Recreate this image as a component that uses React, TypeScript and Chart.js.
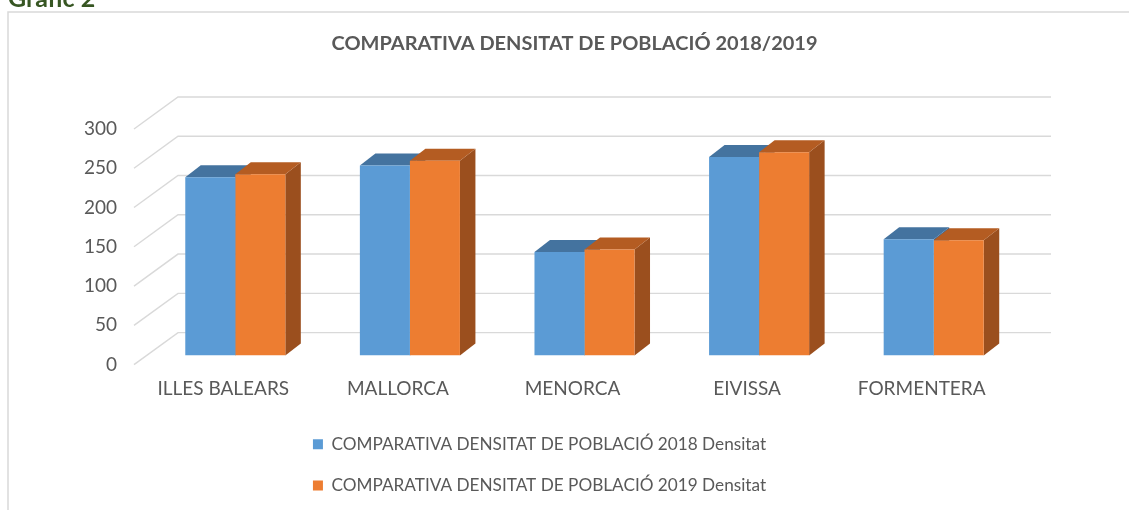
import React, { useEffect, useRef } from "react";
import { Chart, registerables } from "chart.js";

Chart.register(...registerables);

const categories = ["ILLES BALEARS", "MALLORCA", "MENORCA", "EIVISSA", "FORMENTERA"];
const densitat2018 = [227, 242, 132, 253, 148];
const densitat2019 = [231, 248, 135, 259, 147];
const seriesLabels = [
  "COMPARATIVA DENSITAT DE POBLACIÓ 2018 Densitat",
  "COMPARATIVA DENSITAT DE POBLACIÓ 2019 Densitat",
];
const chartTitle = "COMPARATIVA DENSITAT DE POBLACIÓ 2018/2019";
const pageHeading = "Gràfic 2";
const yMin = 0;
const yMax = 300;
const yStep = 50;

const FRONT_COLORS = ["#5b9bd5", "#ed7d31"];
const TOP_COLORS = ["#44739f", "#b45c22"];
const SIDE_COLORS = ["#3c6791", "#9b4f1e"];
const GRID = "#d9d9d9";
const TEXT = "#595959";

const FRONT = { dx: -14, dy: 9 };
const BACK = { dx: 30, dy: -23 };
const BAR3D = { dx: 15.5, dy: -12 };

function poly(ctx: CanvasRenderingContext2D, pts: number[][]) {
  ctx.beginPath();
  ctx.moveTo(pts[0][0], pts[0][1]);
  for (let i = 1; i < pts.length; i++) ctx.lineTo(pts[i][0], pts[i][1]);
  ctx.closePath();
  ctx.fill();
}

const threeD = {
  id: "threeD",
  beforeDraw(chart: any) {
    const { ctx, width, height } = chart;
    ctx.save();
    ctx.fillStyle = "#ffffff";
    ctx.fillRect(0, 0, width, height);
    ctx.strokeStyle = GRID;
    ctx.lineWidth = 1.5;
    ctx.beginPath();
    ctx.moveTo(8, height);
    ctx.lineTo(8, 12);
    ctx.lineTo(width, 12);
    ctx.stroke();
    ctx.restore();
  },
  beforeDatasetsDraw(chart: any) {
    const { ctx, chartArea, scales } = chart;
    const ys = scales.y;
    ctx.save();
    ctx.strokeStyle = GRID;
    ctx.lineWidth = 1.4;
    ys.ticks.forEach((t: any) => {
      const y = ys.getPixelForValue(t.value);
      ctx.beginPath();
      ctx.moveTo(chartArea.left + FRONT.dx, y + FRONT.dy);
      ctx.lineTo(chartArea.left + BACK.dx, y + BACK.dy);
      ctx.lineTo(chartArea.right + BACK.dx, y + BACK.dy);
      ctx.stroke();
    });
    const n = chart.data.labels.length;
    for (let i = 0; i < n; i++) {
      chart.data.datasets.forEach((_ds: any, d: number) => {
        const el = chart.getDatasetMeta(d).data[i];
        const { x, y, base, width } = el.getProps(["x", "y", "base", "width"], true);
        const l = x - width / 2;
        const r = x + width / 2;
        ctx.fillStyle = SIDE_COLORS[d];
        poly(ctx, [[r, y], [r + BAR3D.dx, y + BAR3D.dy], [r + BAR3D.dx, base + BAR3D.dy], [r, base]]);
        ctx.fillStyle = TOP_COLORS[d];
        poly(ctx, [[l, y], [l + BAR3D.dx, y + BAR3D.dy], [r + BAR3D.dx, y + BAR3D.dy], [r, y]]);
      });
    }
    ctx.restore();
  },
  afterDraw(chart: any) {
    const { ctx } = chart;
    ctx.save();
    ctx.font = "bold 18.5px Lato";
    ctx.fillStyle = TEXT;
    ctx.textAlign = "center";
    ctx.textBaseline = "middle";
    const w = ctx.measureText(chartTitle).width;
    ctx.translate(574.5, 44);
    ctx.scale(486 / w, 1);
    ctx.fillText(chartTitle, 0, 0);
    ctx.restore();
  },
};

export default function App() {
  const ref = useRef<HTMLCanvasElement | null>(null);
  useEffect(() => {
    if (!ref.current) return;
    const chart = new Chart(ref.current, {
      type: "bar",
      data: {
        labels: categories,
        datasets: [
          { label: seriesLabels[0], data: densitat2018, backgroundColor: FRONT_COLORS[0], borderWidth: 0 },
          { label: seriesLabels[1], data: densitat2019, backgroundColor: FRONT_COLORS[1], borderWidth: 0 },
        ],
      },
      options: {
        responsive: false,
        animation: false,
        layout: { padding: { left: 58, right: 108, top: 120, bottom: 6 } },
        datasets: { bar: { categoryPercentage: 0.573, barPercentage: 1 } },
        scales: {
          x: {
            grid: { display: false, drawTicks: false },
            border: { display: false },
            ticks: {
              color: TEXT,
              font: { family: "Lato", size: 19 },
              padding: 22,
              labelOffset: -12,
              maxRotation: 0,
              autoSkip: false,
            },
            afterFit: (s: any) => {
              s.height = 56;
            },
          },
          y: {
            min: yMin,
            max: yMax,
            grid: { display: false, drawTicks: false },
            border: { display: false },
            ticks: {
              stepSize: yStep,
              color: TEXT,
              font: { family: "Lato", size: 19 },
              padding: 31,
              labelOffset: 9,
            },
            afterFit: (s: any) => {
              s.width = 90;
            },
          },
        },
        plugins: {
          legend: {
            position: "bottom",
            labels: {
              boxWidth: 10,
              boxHeight: 10,
              padding: 24,
              color: TEXT,
              font: { family: "Lato", size: 17.2 },
            },
          },
          title: { display: false },
          tooltip: { enabled: false },
        },
      },
      plugins: [threeD],
    } as any);
    return () => chart.destroy();
  }, []);

  return (
    <div style={{ position: "fixed", left: 0, top: 0, width: 1129, height: 510, overflow: "hidden", background: "#fff" }}>
      <canvas ref={ref} width={1129} height={510} style={{ display: "block", position: "absolute", left: 0, top: 0 }} />
      <div
        style={{
          position: "absolute",
          left: 8,
          top: -15,
          fontFamily: "Lato",
          fontSize: 25,
          fontWeight: 700,
          lineHeight: "25px",
          color: "#375623",
          whiteSpace: "nowrap",
        }}
      >
        {pageHeading}
      </div>
    </div>
  );
}
